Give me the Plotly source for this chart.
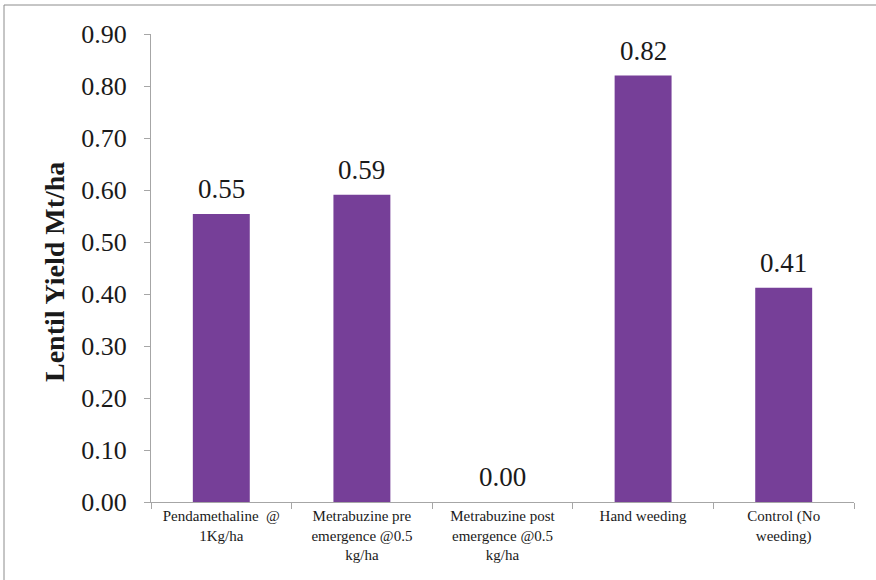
import plotly.graph_objects as go

categories = [
    "Pendamethaline  @<br>1Kg/ha",
    "Metrabuzine pre<br>emergence @0.5<br>kg/ha",
    "Metrabuzine post<br>emergence @0.5<br>kg/ha",
    "Hand weeding",
    "Control (No<br>weeding)",
]
yield_values = [0.554, 0.591, 0.0, 0.82, 0.412]
y_ticks = [0.0, 0.1, 0.2, 0.3, 0.4, 0.5, 0.6, 0.7, 0.8, 0.9]
y_title = "Lentil Yield Mt/ha"

FONT = "Liberation Serif"
BAR_COLOR = "#763F98"
AXIS_COLOR = "#A6A6A6"

fig = go.Figure()
fig.add_trace(go.Bar(
    x=categories,
    y=yield_values,
    marker=dict(color=BAR_COLOR, line=dict(width=0)),
    width=0.405,
    hoverinfo="x+y",
))

annotations = []
for c, v in zip(categories, yield_values):
    annotations.append(dict(
        x=c, y=v, xref="x", yref="y", text=f"{v:.2f}",
        showarrow=False, yanchor="bottom", yshift=8,
        font=dict(family=FONT, size=27, color="#1a1a1a"),
    ))
annotations.append(dict(
    x=0, y=0.5, xref="paper", yref="paper", text=f"<b>{y_title}</b>",
    textangle=-90, showarrow=False, xanchor="center", yanchor="middle",
    xshift=-97, yshift=-4,
    font=dict(family=FONT, size=28, color="#1a1a1a"),
))

fig.update_layout(
    width=876, height=580,
    margin=dict(l=151, r=22, t=34, b=78, pad=0),
    paper_bgcolor="white", plot_bgcolor="white",
    showlegend=False,
    font=dict(family=FONT),
    annotations=annotations,
    shapes=[dict(
        type="rect", xref="paper", yref="paper",
        x0=(4 - 151) / 703, x1=1.5, y0=-0.5, y1=(502 - 5) / 468,
        line=dict(color="#8C8C8C", width=1), fillcolor="rgba(0,0,0,0)",
        layer="below",
    )],
)

fig.update_xaxes(
    type="category",
    showline=True, linecolor=AXIS_COLOR, linewidth=1,
    ticks="outside", tickson="boundaries", ticklen=6, tickcolor=AXIS_COLOR,
    tickfont=dict(family=FONT, size=15, color="#1a1a1a"),
    showgrid=False, zeroline=False,
    tickangle=0,
)
fig.update_yaxes(
    range=[0, 0.9],
    tickvals=y_ticks,
    ticktext=[f"{t:.2f}" for t in y_ticks],
    showline=True, linecolor=AXIS_COLOR, linewidth=1,
    ticks="outside", ticklen=6, tickcolor=AXIS_COLOR,
    ticklabelstandoff=12,
    tickfont=dict(family=FONT, size=26, color="#1a1a1a"),
    showgrid=False, zeroline=False,
)

fig.write_html("out.html")
